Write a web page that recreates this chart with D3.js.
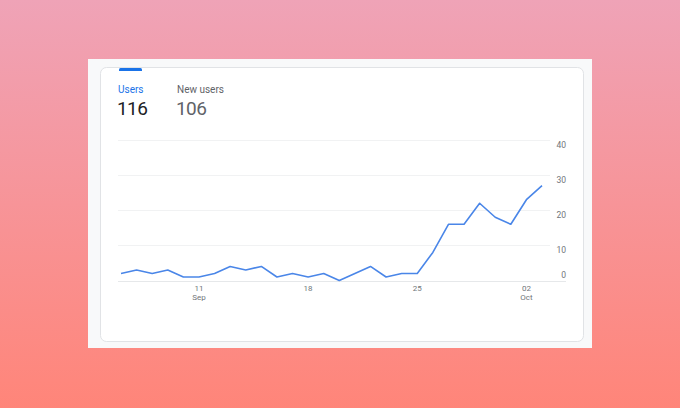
<!DOCTYPE html>
<html>
<head>
<meta charset="utf-8">
<script src="https://cdn.jsdelivr.net/npm/d3@7"></script>
<style>
  html, body { margin: 0; padding: 0; }
  body { width: 680px; height: 408px; overflow: hidden; font-family: Roboto, "Noto Sans", sans-serif; }
</style>
</head>
<body>
<div id="chart"></div>
<script>
// daily users, 6 Sep -> 3 Oct
const startDate = new Date(2023, 8, 6);
const users = [2, 3, 2, 3, 1, 1, 2, 4, 3, 4, 1, 2, 1, 2, 0, 2, 4, 1, 2, 2, 8, 16, 16, 22, 18, 16, 23, 27];
const days = users.map((d, i) => d3.timeDay.offset(startDate, i));

const tickDates = [new Date(2023, 8, 11), new Date(2023, 8, 18), new Date(2023, 8, 25), new Date(2023, 9, 2)];
const tickDays = ["11", "18", "25", "02"];
const tickMonths = ["Sep", "", "", "Oct"];
const yTicks = [0, 10, 20, 30, 40];

const metricNames = ["Users", "New users"];
const metricValues = ["116", "106"];

const width = 680;
const height = 408;

const svg = d3.select("#chart").append("svg")
  .attr("width", width)
  .attr("height", height);

const defs = svg.append("defs");
const grad = defs.append("linearGradient")
  .attr("id", "bg")
  .attr("x1", 0).attr("y1", 0).attr("x2", 0).attr("y2", 1);
grad.append("stop").attr("offset", "0%").attr("stop-color", "#efa3b7");
grad.append("stop").attr("offset", "100%").attr("stop-color", "#ff8579");

svg.append("rect")
  .attr("width", width)
  .attr("height", height)
  .attr("fill", "url(#bg)");

// screenshot frame + card
svg.append("rect")
  .attr("x", 88).attr("y", 59)
  .attr("width", 504).attr("height", 289)
  .attr("fill", "#f8f9fa");

svg.append("rect")
  .attr("x", 100.5).attr("y", 67.5)
  .attr("width", 483).attr("height", 274)
  .attr("rx", 6)
  .attr("fill", "#fff")
  .attr("stroke", "#e1e3e6");

// selected tab marker
svg.append("path")
  .attr("d", "M119,71 L119,69.5 Q119,68 120.5,68 L140.5,68 Q142,68 142,69.5 L142,71 Z")
  .attr("fill", "#1a73e8");

const tabs = svg.append("g");
tabs.selectAll("text.name")
  .data(metricNames)
  .join("text")
  .attr("class", "name")
  .attr("x", (d, i) => i === 0 ? 118 : 177)
  .attr("y", 92.5)
  .attr("font-size", 10)
  .attr("fill", (d, i) => i === 0 ? "#1a73e8" : "#5f6368")
  .text(d => d);

tabs.selectAll("text.val")
  .data(metricValues)
  .join("text")
  .attr("class", "val")
  .attr("x", (d, i) => i === 0 ? 117 : 176)
  .attr("y", 114.5)
  .attr("font-size", 19)
  .attr("letter-spacing", -0.6)
  .attr("fill", (d, i) => i === 0 ? "#202124" : "#5f6368")
  .text(d => d);

const x = d3.scaleTime()
  .domain(d3.extent(days))
  .range([121, 542]);

const y = d3.scaleLinear()
  .domain([0, 40])
  .range([280.5, 140]);

// grid
svg.append("g")
  .selectAll("line")
  .data(yTicks)
  .join("line")
  .attr("x1", 118)
  .attr("x2", d => d === 0 ? 566 : 550)
  .attr("y1", d => Math.round(y(d)) + 0.5)
  .attr("y2", d => Math.round(y(d)) + 0.5)
  .attr("stroke", d => d === 0 ? "#e6e8ea" : "#f1f2f3")
  .attr("stroke-width", 1);

svg.append("g")
  .selectAll("text")
  .data(yTicks)
  .join("text")
  .attr("x", 566)
  .attr("y", d => d === 0 ? y(d) - 3 : y(d) + 8)
  .attr("text-anchor", "end")
  .attr("font-size", 8.5)
  .attr("fill", "#70757a")
  .text(d => d);

// x labels
const xl = svg.append("g")
  .selectAll("g")
  .data(tickDates)
  .join("g")
  .attr("transform", d => `translate(${x(d)},0)`);

xl.append("text")
  .attr("y", 290.5)
  .attr("text-anchor", "middle")
  .attr("font-size", 8)
  .attr("fill", "#70757a")
  .text((d, i) => tickDays[i]);

xl.append("text")
  .attr("y", 299.5)
  .attr("text-anchor", "middle")
  .attr("font-size", 8)
  .attr("fill", "#70757a")
  .text((d, i) => tickMonths[i]);

const line = d3.line()
  .x((d, i) => x(days[i]))
  .y(d => y(d));

svg.append("path")
  .datum(users)
  .attr("d", line)
  .attr("fill", "none")
  .attr("stroke", "#4a86e8")
  .attr("stroke-width", 1.6)
  .attr("stroke-linejoin", "round");
</script>
</body>
</html>
